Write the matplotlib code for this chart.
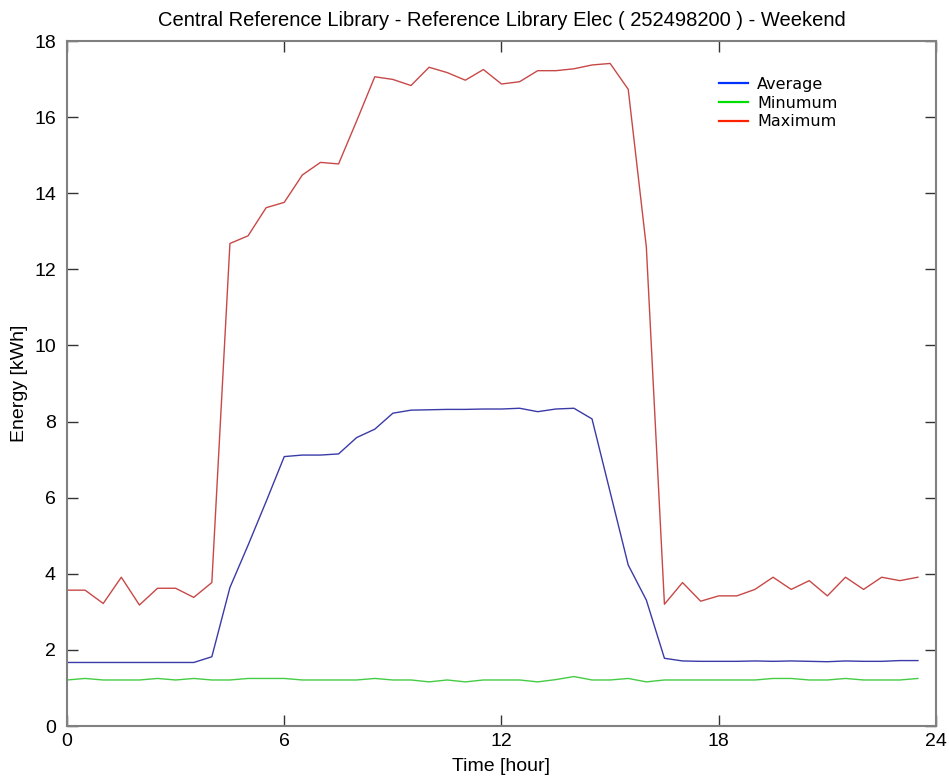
import numpy as np
import matplotlib.pyplot as plt
from matplotlib.lines import Line2D
from matplotlib import font_manager

# half-hourly readings, 0:00 .. 23:30
hours = np.arange(48) * 0.5

average = [1.67, 1.67, 1.67, 1.67, 1.67, 1.67, 1.67, 1.67, 1.82, 3.64,
           4.75, 5.90, 7.08, 7.12, 7.12, 7.15, 7.58, 7.80, 8.22, 8.30,
           8.31, 8.32, 8.32, 8.33, 8.33, 8.35, 8.26, 8.33, 8.35, 8.07,
           6.15, 4.23, 3.31, 1.78, 1.71, 1.70, 1.70, 1.70, 1.71, 1.70,
           1.71, 1.70, 1.69, 1.71, 1.70, 1.70, 1.72, 1.72]

minimum = [1.21, 1.25, 1.21, 1.21, 1.21, 1.25, 1.21, 1.25, 1.21, 1.21,
           1.25, 1.25, 1.25, 1.21, 1.21, 1.21, 1.21, 1.25, 1.21, 1.21,
           1.16, 1.21, 1.16, 1.21, 1.21, 1.21, 1.16, 1.22, 1.30, 1.21,
           1.21, 1.25, 1.16, 1.21, 1.21, 1.21, 1.21, 1.21, 1.21, 1.25,
           1.25, 1.21, 1.21, 1.25, 1.21, 1.21, 1.21, 1.25]

maximum = [3.57, 3.57, 3.22, 3.91, 3.18, 3.62, 3.62, 3.38, 3.77, 12.68,
           12.88, 13.62, 13.76, 14.48, 14.81, 14.77, 15.90, 17.06, 16.99, 16.83,
           17.31, 17.17, 16.97, 17.25, 16.87, 16.93, 17.22, 17.22, 17.27, 17.37,
           17.41, 16.73, 12.59, 3.20, 3.77, 3.28, 3.42, 3.42, 3.59, 3.91,
           3.59, 3.82, 3.42, 3.91, 3.59, 3.91, 3.82, 3.91]

names = ['Average', 'Minumum', 'Maximum']
title = 'Central Reference Library - Reference Library Elec ( 252498200 ) - Weekend'

installed = {f.name for f in font_manager.fontManager.ttflist}
narrow = 'Liberation Sans Narrow' if 'Liberation Sans Narrow' in installed else 'Liberation Sans'

fig = plt.figure(figsize=(9.49, 7.78), dpi=100)
ax = fig.add_axes([0.0706, 0.0668, 0.9157, 0.8805])

ax.plot(hours, average, color='#3a3aa8', lw=1.0)
ax.plot(hours, minimum, color='#45cc45', lw=1.0)
ax.plot(hours, maximum, color='#c84848', lw=1.0)

ax.set_xlim(0, 24)
ax.set_ylim(0, 18)
ax.set_xticks([0, 6, 12, 18, 24])
ax.set_yticks(np.arange(0, 19, 2))
ax.tick_params(direction='in', length=8, width=1, top=True, right=True,
               labelsize=14, color='#333333')
ax.tick_params(axis='y', pad=8)
ax.tick_params(axis='x', pad=5)
for lab in ax.get_xticklabels() + ax.get_yticklabels():
    lab.set_fontfamily(narrow)
for s in ax.spines.values():
    s.set_color('#808080')
    s.set_linewidth(1.5)

ax.set_xlabel('Time [hour]', fontsize=14, family=narrow, labelpad=6)
ax.set_ylabel('Energy [kWh]', fontsize=14, family=narrow, labelpad=4)
ax.set_title(title, fontsize=14.5, family=narrow, pad=11)

handles = [Line2D([], [], color=c, lw=1.6) for c in ['#0033ff', '#00dd00', '#ff2200']]
ax.legend(handles, names, loc='upper left', bbox_to_anchor=(0.741, 0.959),
          frameon=False, fontsize=11.5, handlelength=1.85, handletextpad=0.55,
          labelspacing=0.22, borderpad=0)

fig.savefig('out.png', dpi=100)
